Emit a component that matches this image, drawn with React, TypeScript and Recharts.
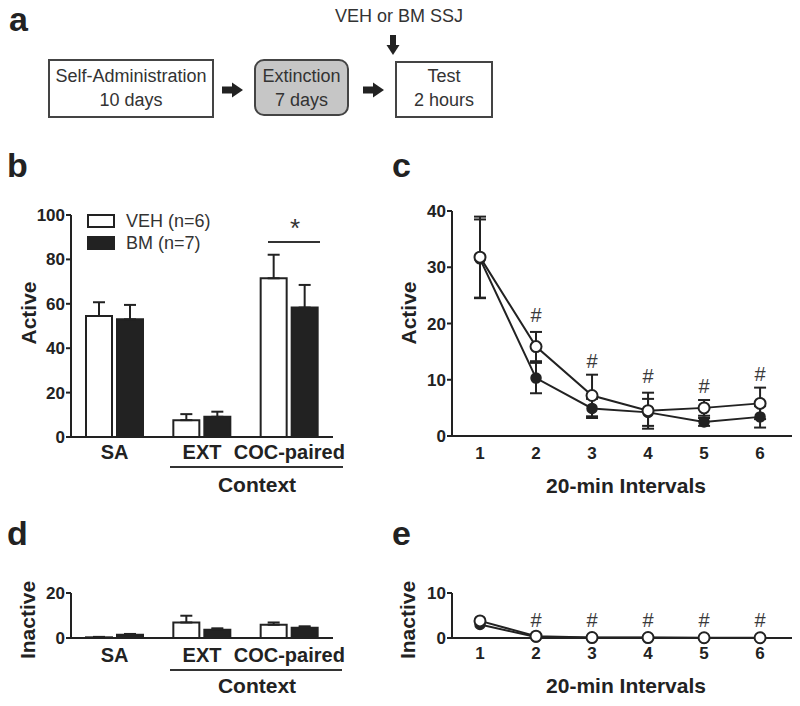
import React from 'react';
import { BarChart, Bar, XAxis, YAxis, ErrorBar, Legend, ComposedChart, Line } from 'recharts';

const FONT = '"Liberation Sans", Arial, Helvetica, sans-serif';
const INK = '#222';
const GREY = '#333';

// ---- panel b / d (bars) ----
const contexts = ['SA', 'EXT', 'COC-paired'];
const activeVeh = [54.5, 7.6, 71.5];
const activeVehErr = [6.2, 2.7, 10.6];
const activeBm = [53, 9.1, 58.3];
const activeBmErr = [6.5, 2.3, 10.2];
const inactiveVeh = [0.3, 6.9, 5.9];
const inactiveVehErr = [0.2, 3.0, 1.0];
const inactiveBm = [1.5, 3.7, 4.6];
const inactiveBmErr = [0.3, 0.6, 0.6];
const activeBarTicks = [0, 20, 40, 60, 80, 100];
const inactiveBarTicks = [0, 20];

// ---- panel c / e (time course) ----
const intervals = [1, 2, 3, 4, 5, 6];
const activeVehC = [31.8, 15.9, 7.2, 4.5, 5.0, 5.8];
const activeVehCErr = [7.2, 2.6, 3.7, 3.2, 1.4, 2.8];
const activeBmC = [31.5, 10.3, 4.9, 4.2, 2.5, 3.4];
const activeBmCErr = [7.0, 2.7, 1.7, 2.4, 0.7, 1.9];
const activeSig = [null, 21.5, 13.3, 10.7, 8.9, 11.0];
const inactiveVehE = [3.8, 0.4, 0.1, 0.1, 0.05, 0.05];
const inactiveBmE = [3.0, 0.2, 0.05, 0.05, 0.02, 0.02];
const inactiveSig = [null, 4, 4, 4, 4, 4];
const activeLineTicks = [0, 10, 20, 30, 40];
const inactiveLineTicks = [0, 10];

const seriesOrder = ['veh', 'bm'];
const seriesNames = { veh: 'VEH (n=6)', bm: 'BM (n=7)' };

const activeBarData = contexts.map((c, i) => ({
  context: c,
  veh: activeVeh[i],
  vehErr: [0, activeVehErr[i]],
  bm: activeBm[i],
  bmErr: [0, activeBmErr[i]],
}));
const inactiveBarData = contexts.map((c, i) => ({
  context: c,
  veh: inactiveVeh[i],
  vehErr: [0, inactiveVehErr[i]],
  bm: inactiveBm[i],
  bmErr: [0, inactiveBmErr[i]],
}));
const activeLineData = intervals.map((x, i) => ({
  x,
  veh: activeVehC[i],
  vehErr: activeVehCErr[i],
  bm: activeBmC[i],
  bmErr: activeBmCErr[i],
  sig: activeSig[i],
}));
const inactiveLineData = intervals.map((x, i) => ({
  x,
  veh: inactiveVehE[i],
  bm: inactiveBmE[i],
  sig: inactiveSig[i],
}));

const numTick = { fill: INK, fontSize: 17, fontWeight: 700, fontFamily: FONT };
const catTick = { fill: INK, fontSize: 20, fontWeight: 700, fontFamily: FONT };
const axisLine = { stroke: INK, strokeWidth: 2 };

const HashDot = (props: any) => {
  const { cx, cy, index } = props;
  if (cx == null || cy == null || Number.isNaN(cy) || props.value == null) return <g key={'h' + index} />;
  return (
    <text key={'h' + index} x={cx} y={cy} textAnchor="middle" dominantBaseline="central" fontSize={20} fill="#3a3a3a" fontFamily={FONT}>
      #
    </text>
  );
};

const LegendContent = (props: any) => {
  const payload = [...(props.payload || [])].sort(
    (a: any, b: any) => seriesOrder.indexOf(a.dataKey) - seriesOrder.indexOf(b.dataKey)
  );
  return (
    <div style={{ fontFamily: FONT }}>
      {payload.map((p: any) => (
        <div key={p.value} style={{ display: 'flex', alignItems: 'center', height: 22 }}>
          <div
            style={{
              width: 24,
              height: 10,
              border: `2px solid ${INK}`,
              background: p.dataKey === 'veh' ? '#fff' : INK,
              marginRight: 11,
            }}
          />
          <span style={{ fontSize: 18, color: GREY }}>{p.value}</span>
        </div>
      ))}
    </div>
  );
};

function BarPanel({ data, height, top, ticks, domain, legend }: any) {
  return (
    <BarChart width={400} height={height} data={data} margin={{ top, right: 67, bottom: height === 350 ? 13 : 38, left: 0 }} barSize={26} barGap={5}>
      <XAxis dataKey="context" interval={0} height={30} tickLine={false} axisLine={axisLine} tick={catTick} tickMargin={height === 350 ? 2 : 4} />
      <YAxis width={71} domain={domain} ticks={ticks} tickSize={5} tickMargin={1} axisLine={axisLine} tickLine={axisLine} tick={numTick} />
      {legend && (
        <Legend
          layout="horizontal"
          verticalAlign="middle"
          align="center"
          content={LegendContent}
          wrapperStyle={{ left: 87, top: 80, width: 'auto' }}
        />
      )}
      <Bar dataKey="veh" name={seriesNames.veh} fill="#fff" stroke={INK} strokeWidth={2} isAnimationActive={false}>
        <ErrorBar dataKey="vehErr" width={6} stroke={INK} strokeWidth={2} direction="y" />
      </Bar>
      <Bar dataKey="bm" name={seriesNames.bm} fill={INK} stroke={INK} strokeWidth={2} isAnimationActive={false}>
        <ErrorBar dataKey="bmErr" width={6} stroke={INK} strokeWidth={2} direction="y" />
      </Bar>
    </BarChart>
  );
}

function LinePanel({ data, height, top, ticks, domain, errors, tickMargin }: any) {
  return (
    <ComposedChart width={400} height={height} data={data} margin={{ top, right: 8, bottom: height === 350 ? 14 : 38, left: 0 }}>
      <XAxis dataKey="x" type="number" domain={[0.5, 6.57]} ticks={intervals} interval={0} height={30} tickLine={false} axisLine={axisLine} tick={numTick} tickMargin={tickMargin} />
      <YAxis width={52} domain={domain} ticks={ticks} tickSize={5} tickMargin={1} axisLine={axisLine} tickLine={axisLine} tick={numTick} />
      <Line dataKey="bm" name={seriesNames.bm} stroke={INK} strokeWidth={2} dot={{ r: 5, fill: INK, stroke: INK, strokeWidth: 1.5 }} activeDot={false} isAnimationActive={false}>
        {errors && <ErrorBar dataKey="bmErr" width={6} stroke={INK} strokeWidth={2} direction="y" />}
      </Line>
      <Line dataKey="veh" name={seriesNames.veh} stroke={INK} strokeWidth={2} dot={{ r: 5.5, fill: '#fff', stroke: INK, strokeWidth: 2 }} activeDot={false} isAnimationActive={false}>
        {errors && <ErrorBar dataKey="vehErr" width={6} stroke={INK} strokeWidth={2} direction="y" />}
      </Line>
      <Line dataKey="sig" stroke="none" dot={HashDot} activeDot={false} legendType="none" isAnimationActive={false} />
    </ComposedChart>
  );
}

const boldText = { fontFamily: FONT, fontWeight: 700, fill: INK } as const;
const regText = { fontFamily: FONT, fill: GREY } as const;

function RightArrow({ x, y }: { x: number; y: number }) {
  return (
    <g fill={INK}>
      <rect x={x} y={y - 3.5} width={11} height={7} />
      <polygon points={`${x + 10},${y - 7.5} ${x + 10},${y + 7.5} ${x + 21},${y}`} />
    </g>
  );
}

export default function App() {
  return (
    <div style={{ position: 'absolute', left: 0, top: 0, width: 800, height: 706, background: '#fff', overflow: 'hidden', fontFamily: FONT }}>
      <div style={{ position: 'absolute', left: 0, top: 130 }}>
        <BarPanel data={activeBarData} height={350} top={85} ticks={activeBarTicks} domain={[0, 100]} legend />
      </div>
      <div style={{ position: 'absolute', left: 400, top: 130 }}>
        <LinePanel data={activeLineData} height={350} top={81} ticks={activeLineTicks} domain={[0, 40]} errors tickMargin={5} />
      </div>
      <div style={{ position: 'absolute', left: 0, top: 480 }}>
        <BarPanel data={inactiveBarData} height={226} top={113} ticks={inactiveBarTicks} domain={[0, 20]} />
      </div>
      <div style={{ position: 'absolute', left: 400, top: 480 }}>
        <LinePanel data={inactiveLineData} height={226} top={113} ticks={inactiveLineTicks} domain={[0, 10]} tickMargin={3} />
      </div>

      <svg width={800} height={706} style={{ position: 'absolute', left: 0, top: 0, pointerEvents: 'none' }}>
        {/* panel a */}
        <text x={9} y={31} fontSize={34} {...boldText}>a</text>
        <text x={399} y={22} fontSize={18} textAnchor="middle" {...regText}>VEH or BM SSJ</text>
        <g fill={INK}>
          <rect x={390} y={35} width={6} height={11} />
          <polygon points="386.5,45 399.5,45 393,55" />
        </g>
        <rect x={49} y={60} width={164} height={57} fill="#fff" stroke="#444" strokeWidth={2} />
        <text x={131} y={82} fontSize={18} textAnchor="middle" {...regText}>Self-Administration</text>
        <text x={131} y={106} fontSize={18} textAnchor="middle" {...regText}>10 days</text>
        <RightArrow x={222} y={90} />
        <rect x={255} y={60} width={93} height={55} rx={9} fill="#c6c6c6" stroke="#444" strokeWidth={2} />
        <text x={301.5} y={82} fontSize={18} textAnchor="middle" {...regText}>Extinction</text>
        <text x={301.5} y={106} fontSize={18} textAnchor="middle" {...regText}>7 days</text>
        <RightArrow x={363} y={90} />
        <rect x={396} y={62} width={96} height={55} fill="#fff" stroke="#444" strokeWidth={2} />
        <text x={444} y={82} fontSize={18} textAnchor="middle" {...regText}>Test</text>
        <text x={444} y={106} fontSize={18} textAnchor="middle" {...regText}>2 hours</text>

        {/* panel b */}
        <text x={7} y={177} fontSize={34} {...boldText}>b</text>
        <text x={28} y={313} fontSize={21} textAnchor="middle" dominantBaseline="central" transform="rotate(-90 28 313)" {...boldText}>Active</text>
        <line x1={268} y1={242} x2={320} y2={242} stroke={GREY} strokeWidth={2} />
        <text x={295} y={237} fontSize={26} textAnchor="middle" {...regText}>*</text>
        <line x1={170} y1={467} x2={343} y2={467} stroke={GREY} strokeWidth={2} />
        <text x={257} y={492} fontSize={21} textAnchor="middle" {...boldText}>Context</text>

        {/* panel c */}
        <text x={392} y={177} fontSize={34} {...boldText}>c</text>
        <text x={408} y={313} fontSize={21} textAnchor="middle" dominantBaseline="central" transform="rotate(-90 408 313)" {...boldText}>Active</text>
        <text x={626} y={493} fontSize={21} textAnchor="middle" {...boldText}>20-min Intervals</text>

        {/* panel d */}
        <text x={7} y={545} fontSize={34} {...boldText}>d</text>
        <text x={27} y={620} fontSize={21} textAnchor="middle" dominantBaseline="central" transform="rotate(-90 27 620)" {...boldText}>Inactive</text>
        <line x1={170} y1={670} x2={342} y2={670} stroke={GREY} strokeWidth={2} />
        <text x={257} y={693} fontSize={21} textAnchor="middle" {...boldText}>Context</text>

        {/* panel e */}
        <text x={392} y={545} fontSize={34} {...boldText}>e</text>
        <text x={407} y={620} fontSize={21} textAnchor="middle" dominantBaseline="central" transform="rotate(-90 407 620)" {...boldText}>Inactive</text>
        <text x={626} y={693} fontSize={21} textAnchor="middle" {...boldText}>20-min Intervals</text>
      </svg>
    </div>
  );
}
